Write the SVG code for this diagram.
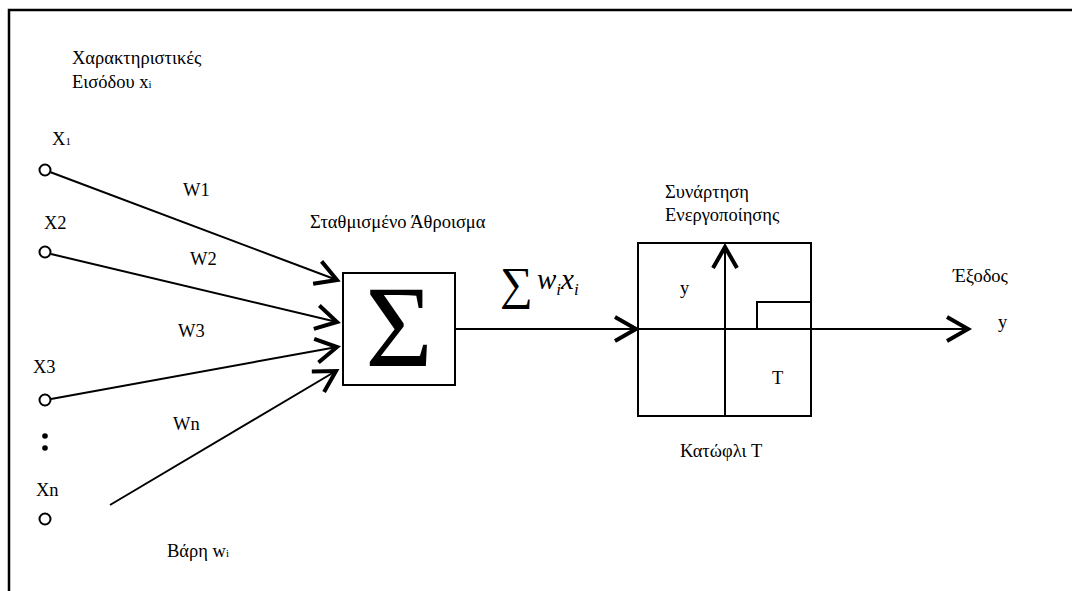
<svg xmlns="http://www.w3.org/2000/svg" width="1072" height="591" viewBox="0 0 1072 591" font-family="'Liberation Serif','Times New Roman',serif">
<style>
text{font-family:"Liberation Serif","Times New Roman",serif;font-size:18.5px;fill:#000}
.sub{font-size:11px}
.ln{stroke:#000;stroke-width:2;fill:none}
.bx{stroke:#000;stroke-width:2;fill:#fff}
.it{font-style:italic}
</style>
<defs>
<marker id="arr" markerUnits="userSpaceOnUse" markerWidth="40" markerHeight="40" viewBox="-30 -20 40 40" refX="0" refY="0" orient="auto" overflow="visible">
<path d="M-21,-12 L0,0 L-21,12" fill="none" stroke="#000" stroke-width="4"/>
</marker>
</defs>
<rect width="1072" height="591" fill="#fff"/>
<path id="frame" d="M9,591 V10 H1072" fill="none" stroke="#000" stroke-width="2.5"/>

<text x="72" y="64">Χαρακτηριστικές</text>
<text x="72" y="88">Εισόδου x<tspan class="sub">i</tspan></text>

<g id="x1"><circle cx="45" cy="170" r="5.5" class="bx"/><text x="52" y="145">X<tspan class="sub">1</tspan></text></g>
<g id="x2"><circle cx="45" cy="252" r="5.5" class="bx"/><text x="44" y="229">X2</text></g>
<g id="x3"><circle cx="45" cy="400" r="5.5" class="bx"/><text x="33" y="373">X3</text></g>
<g id="dots"><circle cx="45" cy="436" r="2.8" fill="#000"/><circle cx="45" cy="448" r="2.8" fill="#000"/></g>
<g id="xn"><circle cx="45" cy="519" r="5.5" class="bx"/><text x="36" y="496">Xn</text></g>

<g id="sum">
<text x="310" y="228">Σταθμισμένο Άθροισμα</text>
<rect x="343" y="273" width="112" height="112" class="bx"/>
<text x="399" y="366" text-anchor="middle" style="font-size:116px">Σ</text>
</g>

<g id="activation">
<text x="665" y="198">Συνάρτηση</text>
<text x="665" y="221">Ενεργοποίησης</text>
<rect x="638" y="243" width="173" height="173" class="bx"/>
<text x="680" y="294">y</text>
<text x="772" y="384">T</text>
<text x="680" y="457">Κατώφλι T</text>
</g>

<g id="output">
<text x="953" y="282">Έξοδος</text>
<text x="998" y="328">y</text>
</g>

<g id="connectors">
<line x1="50" y1="172" x2="337" y2="280" class="ln" marker-end="url(#arr)"/>
<line x1="51" y1="254" x2="337" y2="322" class="ln" marker-end="url(#arr)"/>
<line x1="51" y1="399" x2="337" y2="347" class="ln" marker-end="url(#arr)"/>
<line x1="110" y1="505" x2="336" y2="371" class="ln" marker-end="url(#arr)"/>
<line x1="455" y1="329" x2="636" y2="329" class="ln" marker-end="url(#arr)"/>
<line x1="638" y1="329" x2="968" y2="329" class="ln" marker-end="url(#arr)"/>
<line x1="725" y1="416" x2="725" y2="247" class="ln" marker-end="url(#arr)"/>
<path d="M757,329 V302 H811" class="ln"/>
</g>

<g id="labels">
<text x="183" y="196">W1</text>
<text x="190" y="265">W2</text>
<text x="178" y="337">W3</text>
<text x="173" y="430">Wn</text>
<text x="167" y="557">Βάρη w<tspan class="sub">i</tspan></text>
<text x="500" y="299" style="font-size:46px">∑</text>
<text x="537" y="289" class="it" style="font-size:29px">w<tspan dy="6" style="font-size:17px">i</tspan><tspan dy="-6">x</tspan><tspan dy="6" style="font-size:17px">i</tspan></text>
</g>
</svg>
